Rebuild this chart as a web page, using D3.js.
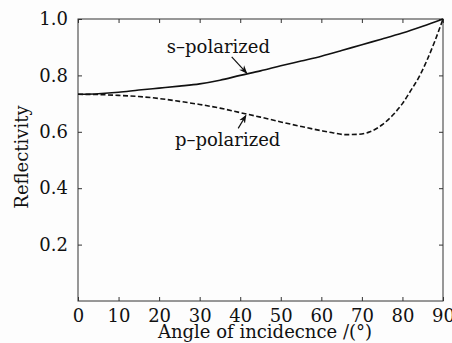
<!DOCTYPE html>
<html>
<head>
<meta charset="utf-8">
<script src="https://cdn.jsdelivr.net/npm/d3@7"></script>
<style>
  body { margin: 0; background: #fdfdfd; }
  text { font-family: "DejaVu Serif", serif; fill: #111; }
</style>
</head>
<body>
<div id="wrapper"></div>
<script>
// data
const sAngles = [0, 5, 10, 15, 20, 25, 30, 35, 40, 45, 50, 55, 60, 65, 70, 75, 80, 85, 90]
const sValues = [0.733, 0.735, 0.740, 0.748, 0.755, 0.762, 0.770, 0.783, 0.800, 0.816, 0.834, 0.851, 0.868, 0.888, 0.909, 0.929, 0.950, 0.974, 1.0]
const pAngles = [0, 5, 10, 15, 20, 25, 30, 35, 40, 45, 50, 55, 60, 63, 66, 69, 72, 75, 78, 80, 82, 84, 86, 88, 90]
const pValues = [0.733, 0.732, 0.729, 0.725, 0.718, 0.708, 0.697, 0.684, 0.668, 0.652, 0.635, 0.619, 0.604, 0.596, 0.590, 0.591, 0.600, 0.625, 0.665, 0.700, 0.745, 0.792, 0.852, 0.922, 1.0]
const xTicks = [0, 10, 20, 30, 40, 50, 60, 70, 80, 90]
const yTicks = [0.2, 0.4, 0.6, 0.8, 1.0]

function drawChart() {
  let dims = {
    width: 452,
    height: 343,
    margin: { top: 19, right: 9, bottom: 42, left: 78 },
  }
  dims.boundedWidth = dims.width - dims.margin.left - dims.margin.right
  dims.boundedHeight = dims.height - dims.margin.top - dims.margin.bottom

  const wrapper = d3.select("#wrapper")
    .append("svg")
      .attr("width", dims.width)
      .attr("height", dims.height)

  const bounds = wrapper.append("g")
    .attr("transform", `translate(${dims.margin.left},${dims.margin.top})`)

  const xScale = d3.scaleLinear().domain([0, 90]).range([0, dims.boundedWidth])
  const yScale = d3.scaleLinear().domain([0, 1]).range([dims.boundedHeight, 0])

  // axes, ticks pointing inward
  const tick = 4
  const styleAxis = g => {
    g.select(".domain").remove()
    g.selectAll("line").attr("stroke", "#333")
    g.selectAll("text").style("font-size", "18px").attr("fill", "#111")
  }
  bounds.append("g")
    .attr("transform", `translate(0,${dims.boundedHeight})`)
    .call(d3.axisBottom(xScale).tickValues(xTicks).tickSize(-tick).tickPadding(8).tickFormat(d3.format("d")))
    .call(styleAxis)
  bounds.append("g")
    .call(d3.axisTop(xScale).tickValues(xTicks).tickSize(-tick).tickFormat(""))
    .call(styleAxis)
  bounds.append("g")
    .call(d3.axisLeft(yScale).tickValues(yTicks).tickSize(-tick).tickPadding(10).tickFormat(d3.format(".1f")))
    .call(styleAxis)
  bounds.append("g")
    .attr("transform", `translate(${dims.boundedWidth},0)`)
    .call(d3.axisRight(yScale).tickValues(yTicks).tickSize(-tick).tickFormat(""))
    .call(styleAxis)

  bounds.append("rect")
    .attr("width", dims.boundedWidth)
    .attr("height", dims.boundedHeight)
    .attr("fill", "none")
    .attr("stroke", "#333")
    .attr("stroke-width", 1)

  const line = d3.line()
    .x(d => xScale(d[0]))
    .y(d => yScale(d[1]))
    .curve(d3.curveMonotoneX)

  bounds.append("path")
    .attr("d", line(d3.zip(sAngles, sValues)))
    .attr("fill", "none")
    .attr("stroke", "#111")
    .attr("stroke-width", 1.6)

  bounds.append("path")
    .attr("d", line(d3.zip(pAngles, pValues)))
    .attr("fill", "none")
    .attr("stroke", "#111")
    .attr("stroke-width", 1.6)
    .attr("stroke-dasharray", "5,2.5")

  // annotations
  wrapper.append("defs").append("marker")
    .attr("id", "head")
    .attr("viewBox", "0 0 10 10")
    .attr("refX", 9).attr("refY", 5)
    .attr("markerWidth", 7).attr("markerHeight", 7)
    .attr("orient", "auto")
    .append("path")
      .attr("d", "M0,1 L10,5 L0,9 L3,5 Z")
      .attr("fill", "#111")

  const labels = [
    { text: "s\u2013polarized", at: [21.9, 0.879], from: [37.9, 0.866], to: [41.6, 0.808] },
    { text: "p\u2013polarized", at: [23.9, 0.55], from: [39.5, 0.612], to: [41.4, 0.658] },
  ]
  labels.forEach(l => {
    bounds.append("text")
      .attr("x", xScale(l.at[0]))
      .attr("y", yScale(l.at[1]))
      .style("font-size", "18px")
      .text(l.text)
    bounds.append("line")
      .attr("x1", xScale(l.from[0])).attr("y1", yScale(l.from[1]))
      .attr("x2", xScale(l.to[0])).attr("y2", yScale(l.to[1]))
      .attr("stroke", "#111")
      .attr("stroke-width", 1.2)
      .attr("marker-end", "url(#head)")
  })

  wrapper.append("text")
    .attr("x", 265)
    .attr("y", 338)
    .attr("text-anchor", "middle")
    .style("font-size", "18px")
    .text("Angle of incidecnce /(\u00b0)")

  wrapper.append("text")
    .attr("transform", "translate(28,157) rotate(-90)")
    .attr("text-anchor", "middle")
    .style("font-size", "18px")
    .text("Reflectivity")
}

drawChart()
</script>
</body>
</html>
